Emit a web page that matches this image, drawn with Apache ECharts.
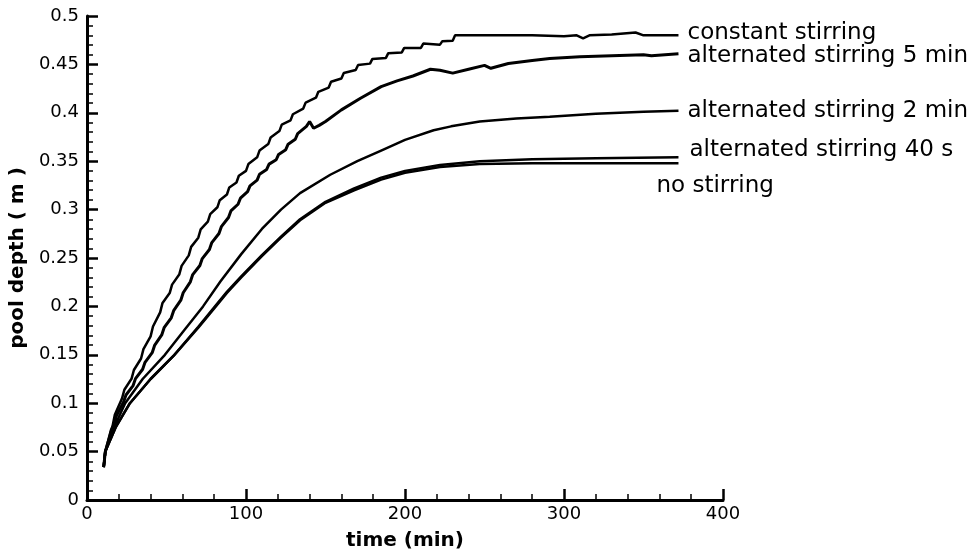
<!DOCTYPE html>
<html>
<head>
<meta charset="utf-8">
<script src="https://cdn.jsdelivr.net/npm/echarts@6/dist/echarts.min.js"></script>
<style>
html,body{margin:0;padding:0;background:#fff;}
#chart{width:975px;height:556px;}
</style>
</head>
<body>
<div id="chart"></div>
<script>
// Series names (used as labels at the curve ends)
const seriesNames = [
  'constant stirring',
  'alternated stirring 5 min',
  'alternated stirring 2 min',
  'alternated stirring 40 s',
  'no stirring'
];

// [time (min), pool depth (m)] (including the small steps)
const constantStirring = [
  [10.5,0.034],[11.5,0.050],[15,0.072],
  [16,0.0756],[17.5,0.088],[22,0.1048],[23.5,0.1139],[28,0.1252],[29.5,0.1343],
  [34,0.1462],[35.5,0.1558],[40,0.169],[41.5,0.1792],[46,0.1938],[47.5,0.2036],
  [52,0.2138],[53.5,0.2225],[58,0.2329],[59.5,0.2419],[64,0.2527],[65.5,0.2615],
  [70,0.271],[71.5,0.2795],[76,0.2875],[77.5,0.2954],[82,0.3024],[83.5,0.3097],
  [88,0.3156],[89.5,0.3229],[94,0.328],[95.5,0.335],[100,0.340],[101.5,0.347],
  [107,0.354],[108.5,0.361],[114,0.3677],[115.5,0.3745],[121,0.3811],[122.5,0.3878],
  [128,0.3922],[129.5,0.3985],[136,0.4044],[137.5,0.4105],[144,0.4156],[145.5,0.4217],
  [152,0.4261],[153.5,0.4321],[160,0.4355],[161.5,0.4412],[169,0.4442],[170.5,0.4494],
  [178,0.4508],[179.5,0.4557],[188,0.4567],[189.5,0.4616],[198,0.4624],[199.5,0.467],
  [210,0.467],[211.5,0.4715],[222,0.4704],[223.5,0.474],[230,0.4745],[231.5,0.480],
  [250,0.480],[280,0.480],[300,0.479],[308,0.480],[312,0.477],[316,0.480],[330,0.481],
  [345,0.483],[350,0.480],[372,0.480]
];
const alternated5min = [
  [10.5,0.034],[11.5,0.050],[16,0.075],
  [17,0.0777],[18.5,0.0869],[23,0.1013],[24.5,0.1085],[29,0.1182],[30.5,0.1254],
  [35,0.1351],[36.5,0.1422],[41,0.1522],[42.5,0.1597],[47,0.1705],[48.5,0.178],
  [53,0.1882],[54.5,0.1956],[59,0.2064],[60.5,0.2141],[65,0.2254],[66.5,0.2329],
  [71,0.2423],[72.5,0.2494],[77,0.2588],[78.5,0.2659],[83,0.2753],[84.5,0.2824],
  [89,0.2918],[90.5,0.2986],[95,0.3055],[96.5,0.3118],[101,0.3185],[102.5,0.3245],
  [107,0.3305],[108.5,0.3365],[113,0.3415],[114.5,0.347],[119,0.3515],[120.5,0.357],
  [125,0.3619],[126.5,0.3676],[131,0.3727],[132.5,0.3785],[138,0.386],[140,0.391],
  [142.5,0.384],[146,0.387],[150,0.391],[160,0.403],[172,0.415],[185,0.427],[195,0.433],
  [205,0.438],[216,0.445],[222,0.444],[230,0.441],[240,0.445],[250,0.449],[254,0.446],
  [265,0.451],[280,0.454],[291,0.456],[310,0.458],[330,0.459],[350,0.460],[355,0.459],
  [372,0.461]
];
const alternated2min = [
  [10.5,0.034],[11.5,0.050],[17,0.075],[24,0.100],[35,0.125],[49,0.150],[61,0.175],
  [73,0.200],[84,0.226],[97,0.254],[110,0.280],[122,0.300],[134,0.317],[153,0.336],
  [170,0.350],[185,0.361],[200,0.372],[218,0.382],[229,0.386],[247,0.391],[270,0.394],
  [291,0.396],[320,0.399],[350,0.401],[372,0.402]
];
const alternated40s = [
  [10.5,0.034],[11.5,0.050],[18,0.075],[27,0.100],[40,0.125],[55,0.150],[70,0.179],
  [80,0.199],[88,0.215],[97,0.231],[110,0.253],[122,0.272],[134,0.290],[150,0.308],
  [168,0.322],[185,0.333],[200,0.340],[222,0.346],[247,0.350],[280,0.352],[320,0.353],
  [372,0.354]
];
const noStirring = [
  [10.5,0.034],[11.5,0.050],[18,0.075],[27,0.100],[40,0.125],[55,0.150],[70,0.178],
  [80,0.198],[88,0.214],[97,0.230],[110,0.252],[122,0.271],[134,0.289],[150,0.307],
  [168,0.320],[185,0.331],[200,0.338],[222,0.344],[247,0.347],[280,0.348],[320,0.348],
  [372,0.348]
];

const allData = [constantStirring, alternated5min, alternated2min, alternated40s, noStirring];
// label offsets [dx, dy] relative to each curve end
const labelOffsets = [[9,-2],[9,2],[9,0],[11,-7],[-22,23]];
const lineWidths = [2.5, 3, 2.5, 2.5, 2.5];

const xTicks = {min: 0, max: 400, interval: 100};
const yTicks = {min: 0, max: 0.5, interval: 0.05};

const FONT = 'DejaVu Sans';

const chart = echarts.init(document.getElementById('chart'), null, {renderer: 'canvas'});

const series = allData.map((d, i) => ({
  type: 'line',
  name: seriesNames[i],
  data: d,
  showSymbol: false,
  smooth: false,
  lineStyle: {color: '#000', width: lineWidths[i]},
  z: 3,
  endLabel: {
    show: true,
    formatter: seriesNames[i],
    color: '#000',
    fontFamily: FONT,
    fontSize: 23,
    distance: 0,
    offset: labelOffsets[i],
    align: 'left',
    verticalAlign: 'middle'
  },
  emphasis: {disabled: true}
}));

chart.setOption({
  animation: false,
  backgroundColor: '#fff',
  grid: {left: 86, right: 252, top: 16, bottom: 50, containLabel: false},
  xAxis: {
    type: 'value',
    min: xTicks.min, max: xTicks.max, interval: xTicks.interval,
    name: 'time (min)',
    nameLocation: 'middle',
    nameGap: 31,
    nameTextStyle: {fontFamily: FONT, fontWeight: 'bold', fontSize: 20, color: '#000'},
    axisLine: {show: true, lineStyle: {color: '#000', width: 3}},
    axisTick: {show: true, inside: true, length: 11, lineStyle: {color: '#000', width: 2.5}},
    minorTick: {show: true, splitNumber: 5, length: 6, lineStyle: {color: '#000', width: 1.5}},
    axisLabel: {fontFamily: FONT, fontSize: 18, color: '#000', margin: 5},
    splitLine: {show: false},
    minorSplitLine: {show: false}
  },
  yAxis: {
    type: 'value',
    min: yTicks.min, max: yTicks.max, interval: yTicks.interval,
    name: 'pool depth ( m )',
    nameLocation: 'middle',
    nameGap: 59,
    nameTextStyle: {fontFamily: FONT, fontWeight: 'bold', fontSize: 20, color: '#000'},
    axisLine: {show: true, lineStyle: {color: '#000', width: 3}},
    axisTick: {show: true, inside: true, length: 11, lineStyle: {color: '#000', width: 2.5}},
    minorTick: {show: true, splitNumber: 5, length: 6, lineStyle: {color: '#000', width: 1.5}},
    axisLabel: {fontFamily: FONT, fontSize: 18, color: '#000', margin: 8},
    splitLine: {show: false},
    minorSplitLine: {show: false}
  },
  series: series
});
</script>
</body>
</html>
